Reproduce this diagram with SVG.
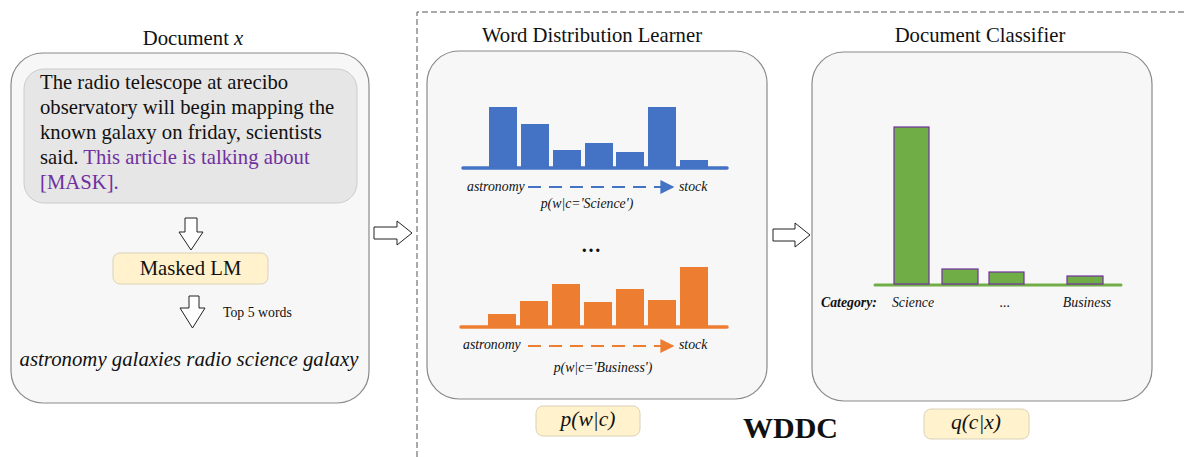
<svg xmlns="http://www.w3.org/2000/svg" width="1184" height="457" viewBox="0 0 1184 457">
<style>
text{font-family:"Liberation Serif","Times New Roman",serif;fill:#111}
.panel{fill:#f7f7f7;stroke:#8a8a8a;stroke-width:1.2}
.title{font-size:20.7px;text-anchor:middle}
.body{font-size:20.7px}
.purple{fill:#7030a0}
.yel{fill:#fff2cc;stroke:#d9d2b8;stroke-width:1}
.fat{fill:#fff;stroke:#222;stroke-width:1}
.small{font-size:13.8px;font-style:italic}
.blue{fill:#4472c4}
.orange{fill:#ed7d31}
.green{fill:#70ad47;stroke:#7030a0;stroke-width:1.2}
</style>
<defs>
<marker id="ab" viewBox="0 0 10 10" refX="9" refY="5" markerWidth="14" markerHeight="14" markerUnits="userSpaceOnUse" orient="auto"><path d="M0,0L10,5L0,10z" fill="#4472c4"/></marker>
<marker id="ao" viewBox="0 0 10 10" refX="9" refY="5" markerWidth="14" markerHeight="14" markerUnits="userSpaceOnUse" orient="auto"><path d="M0,0L10,5L0,10z" fill="#ed7d31"/></marker>
</defs>
<rect width="1184" height="457" fill="#fff"/>
<g id="wddc-frame">
<path d="M417,457 V12 H1184" fill="none" stroke="#555" stroke-width="1" stroke-dasharray="6,3"/>
<text x="743" y="438" style="font-size:30px;font-weight:bold">WDDC</text>
</g>
<g id="document">
<text class="title" x="193" y="45">Document <tspan font-style="italic">x</tspan></text>
<rect class="panel" x="11" y="53" width="358" height="350" rx="32"/>
<rect x="24" y="69" width="333" height="134" rx="20" fill="#e6e6e6" stroke="#cccccc"/>
<text class="body" x="40" y="89">The radio telescope at arecibo</text>
<text class="body" x="40" y="114">observatory will begin mapping the</text>
<text class="body" x="40" y="139">known galaxy on friday, scientists</text>
<text class="body" x="40" y="164">said. <tspan class="purple">This article is talking about</tspan></text>
<text class="body purple" x="40" y="189">[MASK].</text>
</g>
<g id="masked-lm">
<rect class="yel" x="113" y="253" width="155" height="31" rx="7"/>
<text x="190.5" y="275" style="font-size:20.7px;text-anchor:middle">Masked LM</text>
</g>
<g id="top-words">
<text x="223" y="317" style="font-size:13.8px">Top 5 words</text>
<text x="189" y="366" style="font-size:20.8px;font-style:italic;text-anchor:middle">astronomy galaxies radio science galaxy</text>
</g>
<g id="word-distribution-learner">
<text class="title" x="592" y="42">Word Distribution Learner</text>
<rect class="panel" x="427" y="51" width="340" height="348" rx="32"/>
<g class="blue">
<rect x="489" y="107" width="28" height="61"/>
<rect x="521" y="124" width="28" height="44"/>
<rect x="553" y="150" width="28" height="18"/>
<rect x="585" y="143" width="28" height="25"/>
<rect x="616" y="152" width="28" height="16"/>
<rect x="648" y="107" width="28" height="61"/>
<rect x="680" y="160" width="28" height="8"/>
</g>
<line x1="463" y1="168" x2="727" y2="168" stroke="#4472c4" stroke-width="3.5" stroke-linecap="round"/>
<text class="small" x="467" y="191">astronomy</text>
<text class="small" x="679" y="191">stock</text>
<text class="small" x="587" y="208" text-anchor="middle">p(w|c='Science')</text>
<text x="591" y="252" style="font-size:20px;text-anchor:middle;font-weight:bold">…</text>
<g class="orange">
<rect x="488" y="314" width="28" height="13"/>
<rect x="520" y="301" width="28" height="26"/>
<rect x="552" y="284" width="28" height="43"/>
<rect x="584" y="302" width="28" height="25"/>
<rect x="616" y="289" width="28" height="38"/>
<rect x="648" y="300" width="28" height="27"/>
<rect x="680" y="267" width="28" height="60"/>
</g>
<line x1="461" y1="327" x2="727" y2="327" stroke="#ed7d31" stroke-width="3.5" stroke-linecap="round"/>
<text class="small" x="463" y="349">astronomy</text>
<text class="small" x="679" y="349">stock</text>
<text class="small" x="603" y="372" text-anchor="middle">p(w|c='Business')</text>
</g>
<g id="p-w-c">
<rect class="yel" x="536" y="406" width="104" height="30" rx="7"/>
<text x="588" y="426" style="font-size:21.5px;font-style:italic;text-anchor:middle">p(w|c)</text>
</g>
<g id="document-classifier">
<text class="title" x="980" y="42">Document Classifier</text>
<rect class="panel" x="812" y="52" width="340" height="349" rx="32"/>
<line x1="875" y1="285" x2="1121" y2="285" stroke="#70ad47" stroke-width="3" stroke-linecap="round"/>
<rect class="green" x="894" y="127" width="35" height="157"/>
<rect class="green" x="942" y="269" width="36" height="15"/>
<rect class="green" x="989" y="272" width="35" height="12"/>
<rect class="green" x="1067" y="276" width="36" height="8"/>
<text x="821" y="307" style="font-size:13.8px;font-style:italic;font-weight:bold">Category:</text>
<text class="small" x="913" y="307" text-anchor="middle">Science</text>
<text class="small" x="1005" y="307" text-anchor="middle">...</text>
<text class="small" x="1087" y="307" text-anchor="middle">Business</text>
</g>
<g id="q-c-x">
<rect class="yel" x="924" y="409" width="105" height="30" rx="7"/>
<text x="976" y="429" style="font-size:21.5px;font-style:italic;text-anchor:middle">q(c|x)</text>
</g>
<g id="connectors">
<line x1="528" y1="187" x2="673" y2="187" stroke="#4472c4" stroke-width="2" stroke-dasharray="13,8" marker-end="url(#ab)"/>
<line x1="528" y1="346" x2="673" y2="346" stroke="#ed7d31" stroke-width="2" stroke-dasharray="13,8" marker-end="url(#ao)"/>
<path class="fat" d="M185,218 H197 V232 H203 L191,250 L179,232 H185 Z"/>
<path class="fat" d="M189,296 H199 V308 H205 L192.5,328 L180,308 H189 Z"/>
<path class="fat" d="M374,227 H397 V221 L412,233 L397,245 V239 H374 Z"/>
<path class="fat" d="M773,229 H795 V223 L810,235 L795,247 V241 H773 Z"/>
</g>
</svg>
